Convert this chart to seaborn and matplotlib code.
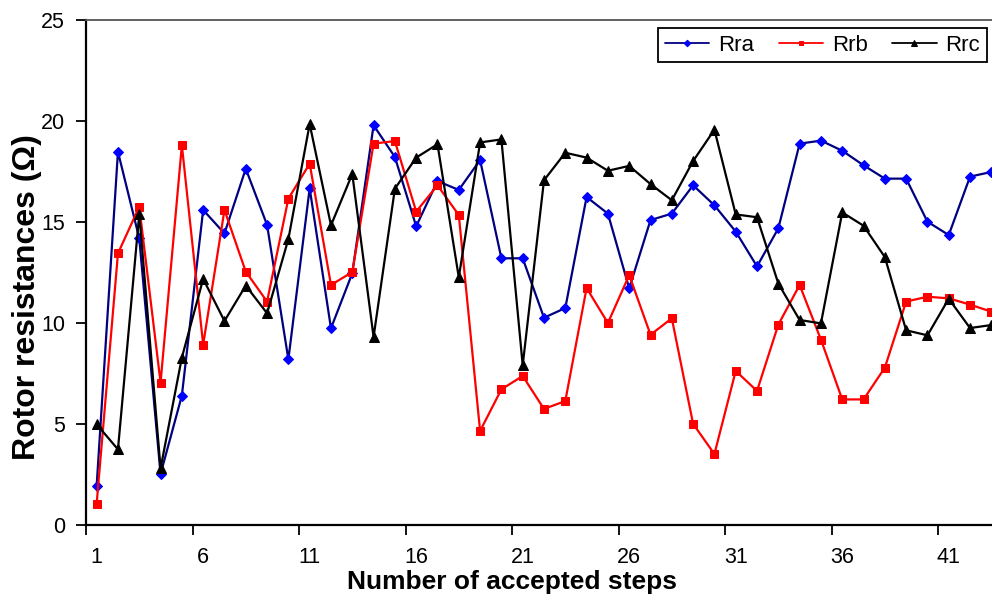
import numpy as np
import pandas as pd
import matplotlib
matplotlib.use("Agg")
import matplotlib.pyplot as plt
import seaborn as sns

# Rotor resistance estimates at each accepted step (ohms)
steps = list(range(1, 44))
rra = [1.94, 18.46, 14.18, 2.52, 6.40, 15.58, 14.42, 17.62, 14.84, 8.19,
       16.65, 9.73, 12.45, 19.77, 18.20, 14.77, 17.01, 16.57, 18.05, 13.19,
       13.19, 10.25, 10.73, 16.22, 15.40, 11.70, 15.08, 15.40, 16.80, 15.81,
       14.51, 12.79, 14.67, 18.86, 19.01, 18.51, 17.79, 17.13, 17.13, 15.00,
       14.34, 17.23, 17.46]
rrb = [1.05, 13.43, 15.74, 7.04, 18.78, 8.92, 15.58, 12.53, 11.05, 16.14,
       17.87, 11.87, 12.51, 18.86, 18.99, 15.50, 16.80, 15.33, 4.65, 6.71,
       7.37, 5.74, 6.13, 11.72, 9.99, 12.36, 9.41, 10.22, 5.00, 3.51,
       7.62, 6.63, 9.91, 11.87, 9.17, 6.21, 6.21, 7.78, 11.05, 11.29,
       11.21, 10.90, 10.55]
rrc = [4.98, 3.74, 15.38, 2.80, 8.28, 12.17, 10.09, 11.84, 10.47, 14.14,
       19.83, 14.82, 17.36, 9.30, 16.63, 18.17, 18.83, 12.25, 18.92, 19.07,
       7.90, 17.05, 18.41, 18.17, 17.52, 17.76, 16.86, 16.06, 18.00, 19.55,
       15.36, 15.22, 11.94, 10.14, 9.97, 15.46, 14.80, 13.25, 9.63, 9.38,
       11.19, 9.74, 9.89]
series_names = ["Rra", "Rrb", "Rrc"]
x_tick_labels = ["1", "6", "11", "16", "21", "26", "31", "36", "41"]
y_ticks = [0, 5, 10, 15, 20, 25]

df = pd.DataFrame({"step": steps, "Rra": rra, "Rrb": rrb, "Rrc": rrc})

sns.set_style("white")
plt.rcParams["font.family"] = ["Liberation Sans", "DejaVu Sans"]
plt.rcParams.update({"text.color": "black", "axes.labelcolor": "black",
                     "xtick.color": "black", "ytick.color": "black"})

fig = plt.figure(figsize=(9.92, 6.01), dpi=100)
ax = fig.add_axes([86 / 992, 76 / 601, 916 / 992, 505.5 / 601])

styles = {
    "Rra": dict(color="#000080", marker="D", markerfacecolor="#0000FF",
                markeredgecolor="#0000FF", markersize=5.5),
    "Rrb": dict(color="#FF0000", marker="s", markerfacecolor="#FF0000",
                markeredgecolor="#FF0000", markersize=5.5),
    "Rrc": dict(color="#000000", marker="^", markerfacecolor="#000000",
                markeredgecolor="#000000", markersize=7),
}
for name in series_names:
    sns.lineplot(data=df, x="step", y=name, ax=ax, label=name,
                 linewidth=1.6, **styles[name])

ax.set_xlim(0.5, 43.5)
ax.set_ylim(0, 25)

# category labels centred on points, tick marks between categories
label_pos = [int(t) for t in x_tick_labels]
ax.set_xticks(label_pos)
ax.set_xticklabels(x_tick_labels)
ax.set_xticks([p - 0.5 for p in label_pos], minor=True)
ax.tick_params(axis="x", which="major", length=0, pad=16, labelsize=15.5)
ax.tick_params(axis="x", which="minor", length=7, width=1.3,
               direction="out", color="black", bottom=True)
ax.set_yticks(y_ticks)
ax.tick_params(axis="y", which="major", length=7, width=1.3, direction="out",
               color="black", left=True, pad=8, labelsize=15.5)

for side in ["left", "bottom"]:
    ax.spines[side].set_color("black")
    ax.spines[side].set_linewidth(1.6)
ax.spines["top"].set_color("#555555")
ax.spines["top"].set_linewidth(1.3)
ax.spines["right"].set_visible(False)

ax.set_xlabel("Number of accepted steps", fontsize=19, fontweight="bold")
ax.set_ylabel("Rotor resistances (\u03a9)", fontsize=23, fontweight="bold")
ax.xaxis.set_label_coords(0.465, -0.09)
ax.yaxis.set_label_coords(-0.048, 0.451)

leg = ax.legend(loc="upper right", bbox_to_anchor=(987 / 992, 1 - 28 / 601),
                bbox_transform=fig.transFigure, ncol=3, frameon=True,
                fancybox=False, edgecolor="black", fontsize=16,
                handlelength=2.0, columnspacing=1.1, handletextpad=0.4,
                borderpad=0.3, markerscale=0.6, borderaxespad=0)
leg.get_frame().set_linewidth(1.3)
leg.get_frame().set_alpha(1)
for line in leg.get_lines():
    line.set_linewidth(1.3)

fig.savefig("out.png", dpi=100)
